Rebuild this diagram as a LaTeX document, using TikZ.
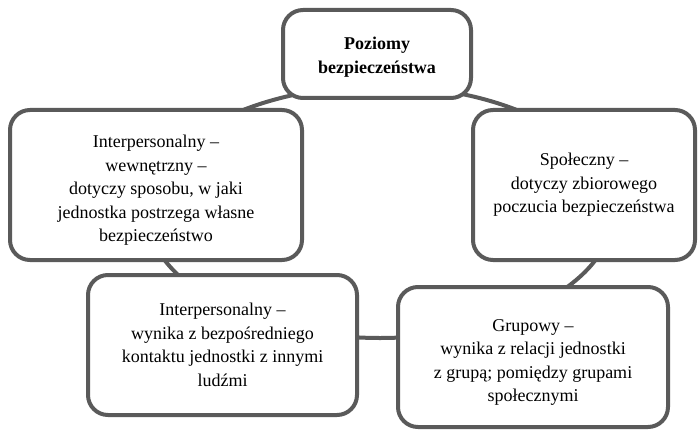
\documentclass[tikz,border=0pt]{standalone}
\usepackage{fontspec}
\setmainfont{Liberation Serif}
\definecolor{edge}{HTML}{5A5A5A}
\newcommand{\lowertext}[2]{\raisebox{-#1}[\height][\depth]{\begin{tabular}{@{}c@{}}#2\end{tabular}}}
\tikzset{
  box/.style={draw=edge, line width=4pt, fill=white, rectangle, rounded corners=20pt,
    align=center, inner sep=0pt, font=\fontsize{18}{23.5}\selectfont},
  ring/.style={draw=edge, line width=4pt}
}
\begin{document}
\begin{tikzpicture}[x=1pt,y=-1pt]
\useasboundingbox (0,0) rectangle (698,433);
\coordinate (c) at (380,212);
\draw[ring] (c) ellipse [x radius=233, y radius=126];
\node[box, minimum width=188pt, minimum height=88pt] (top) at (377,54)
  {\lowertext{3pt}{\bfseries Poziomy\\\bfseries bezpiecze\'nstwa}};
\node[box, minimum width=292pt, minimum height=150pt] (left) at (156,185)
  {\lowertext{5pt}{Interpersonalny –\\wewnętrzny –\\dotyczy sposobu, w jaki\\jednostka postrzega własne\\bezpieczeństwo}};
\node[box, minimum width=222pt, minimum height=150pt] (right) at (584,185)
  {Społeczny –\\dotyczy zbiorowego\\poczucia bezpieczeństwa};
\node[box, minimum width=269pt, minimum height=140pt] (bl) at (222.5,345)
  {Interpersonalny –\\wynika z bezpośredniego\\kontaktu jednostki z innymi\\ludźmi};
\node[box, minimum width=270pt, minimum height=140pt] (br) at (533,357)
  {\lowertext{5pt}{Grupowy –\\wynika z relacji jednostki\\z grupą; pomiędzy grupami\\społecznymi}};
\end{tikzpicture}
\end{document}
